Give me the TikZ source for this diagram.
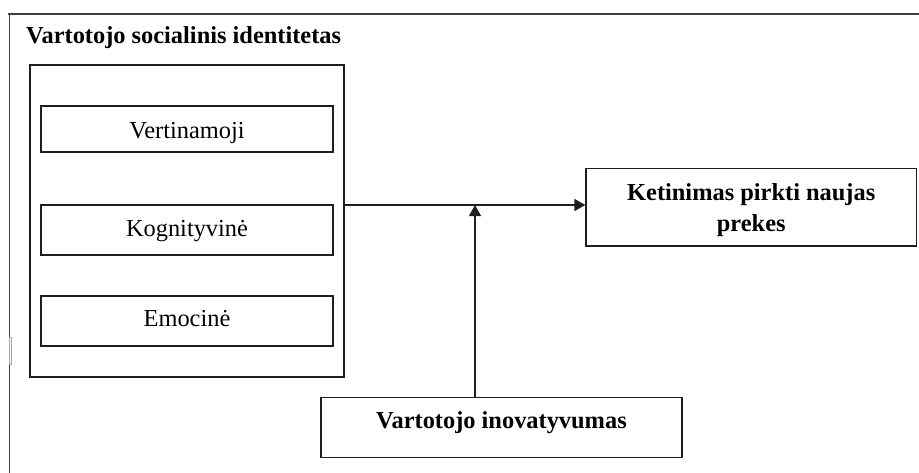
\documentclass[tikz,border=0pt]{standalone}
\usepackage{fontspec}
\setmainfont{Liberation Serif}
\usetikzlibrary{arrows.meta}
\tikzset{
  box/.style={draw=black!88, line width=1.2pt, inner sep=0pt, font=\fontsize{24.4}{29}\selectfont},
  boldbox/.style={box, font=\fontsize{24.4}{30.5}\selectfont\bfseries},
  txtpos/.style 2 args={text height=#1, text depth=#2},
  arr/.style={draw=black!88, line width=1.2pt, -{Triangle[length=11pt,width=12pt]}},
  frame/.style={draw=black!75, line cap=rect}
}
\begin{document}
\begin{tikzpicture}[x=1pt, y=-1pt]
\useasboundingbox (0,0) rectangle (919,472);
\fill[white] (0,0) rectangle (919,472);

% outer frame: top and left edges only
\draw[frame, line width=2.2pt] (9,14) -- (919,14);
\draw[frame, line width=1.5pt] (9.5,14) -- (9.5,472);
\draw[draw=black!35, fill=white, line width=0.5pt] (8.8,337) rectangle (10.8,364);

% heading
\node[anchor=base west, inner sep=0pt, font=\fontsize{24.4}{29}\selectfont\bfseries] (title) at (26,43) {Vartotojo socialinis identitetas};

% group of identity dimensions
\node[box, minimum width=314pt, minimum height=312pt] (group) at (187,221) {};
\node[box, minimum width=292pt, minimum height=46pt, txtpos={18pt}{0pt}] (vert) at (187,129) {Vertinamoji};
\node[box, minimum width=292pt, minimum height=50pt, txtpos={12pt}{0pt}] (kogn) at (187,230) {Kognityvinė};
\node[box, minimum width=292pt, minimum height=50pt, txtpos={11.4pt}{0pt}] (emoc) at (187,321) {Emocinė};

% outcome and moderator
\node[boldbox, minimum width=330.5pt, minimum height=77.5pt, align=center, txtpos={48pt}{0pt}] (ket) at (751.25,207.25) {Ketinimas pirkti naujas\\prekes};
\node[boldbox, minimum width=361pt, minimum height=59.5pt, txtpos={1pt}{0pt}] (inov) at (501.5,427.5) {Vartotojo inovatyvumas};

% connectors
\coordinate (j) at (475,205);
\draw[arr] (j -| group.east) -- (j -| ket.west);
\draw[arr] (inov.north -| j) -- (j);
\end{tikzpicture}
\end{document}
